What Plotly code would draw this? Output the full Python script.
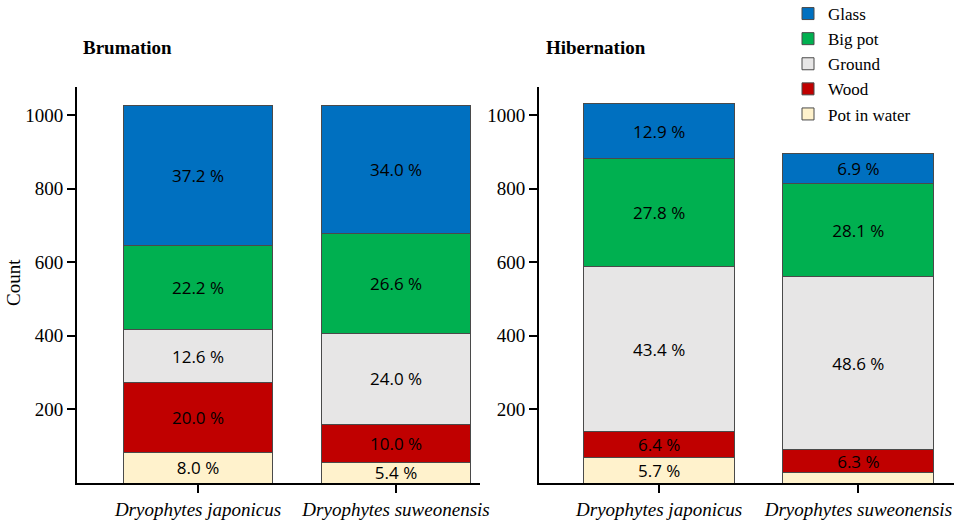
import plotly.graph_objects as go

# counts, bottom segment first
species = ['Dryophytes japonicus', 'Dryophytes suweonensis']
substrates = ['Pot in water', 'Wood', 'Ground', 'Big pot', 'Glass']
colors = ['#FFF2CC', '#C00000', '#E7E6E6', '#00B050', '#0070C0']

brum_counts = {
    'Pot in water': [83, 56],
    'Wood': [189, 104],
    'Ground': [146, 247],
    'Big pot': [227, 271],
    'Glass': [382, 349],
}
brum_labels = {
    'Pot in water': ['8.0 %', '5.4 %'],
    'Wood': ['20.0 %', '10.0 %'],
    'Ground': ['12.6 %', '24.0 %'],
    'Big pot': ['22.2 %', '26.6 %'],
    'Glass': ['37.2 %', '34.0 %'],
}
hib_counts = {
    'Pot in water': [70, 28],
    'Wood': [69, 62],
    'Ground': [450, 471],
    'Big pot': [293, 252],
    'Glass': [148, 82],
}
hib_labels = {
    'Pot in water': ['5.7 %', ''],
    'Wood': ['6.4 %', '6.3 %'],
    'Ground': ['43.4 %', '48.6 %'],
    'Big pot': ['27.8 %', '28.1 %'],
    'Glass': ['12.9 %', '6.9 %'],
}

SERIF = 'Liberation Serif'
SANS = 'Open Sans'

W, H = 957, 525


def px_x(x):
    return x / W


def px_y(y):
    return 1 - y / H


fig = go.Figure()

for name, col in zip(substrates, colors):
    for counts, labels, xa, ya, leg in [(brum_counts, brum_labels, 'x', 'y', True),
                                        (hib_counts, hib_labels, 'x2', 'y2', False)]:
        fig.add_trace(go.Bar(
            x=species, y=counts[name], name=name,
            marker=dict(color=col, line=dict(color='#4a4a4a', width=1)),
            text=labels[name], textposition='inside', insidetextanchor='middle',
            textangle=0, textfont=dict(family=SANS, size=17, color='black'),
            width=0.757, xaxis=xa, yaxis=ya, legendgroup=name, showlegend=leg,
        ))

xaxis_style = dict(
    type='category', showline=True, linecolor='black', linewidth=2,
    ticks='outside', ticklen=8, tickwidth=2, tickcolor='black',
    tickfont=dict(family=SERIF, size=19, color='black', style='italic'),
    showgrid=False, zeroline=False,
)
yaxis_style = dict(
    range=[0, 1076], tickvals=[200, 400, 600, 800, 1000],
    showline=True, linecolor='black', linewidth=2,
    ticks='outside', ticklen=8, tickwidth=2, tickcolor='black',
    tickfont=dict(family=SERIF, size=19, color='black'),
    showgrid=False, zeroline=False, domain=[px_y(483), px_y(87)],
)

fig.update_layout(
    width=W, height=H,
    barmode='stack',
    plot_bgcolor='white', paper_bgcolor='white',
    margin=dict(l=0, r=0, t=0, b=0, autoexpand=False),
    uniformtext=dict(mode='show', minsize=17),
    xaxis=dict(xaxis_style, domain=[px_x(77), px_x(480)], range=[-0.611, 1.424], anchor='y'),
    yaxis=dict(yaxis_style, anchor='x'),
    xaxis2=dict(xaxis_style, domain=[px_x(539), px_x(954)], range=[-0.603, 1.48], anchor='y2'),
    yaxis2=dict(yaxis_style, anchor='x2'),
    legend=dict(
        x=px_x(788), y=px_y(-4), xanchor='left', yanchor='top',
        traceorder='reversed', font=dict(family=SERIF, size=17, color='black'),
        itemwidth=30, tracegroupgap=0, bgcolor='rgba(0,0,0,0)',
    ),
    annotations=[
        dict(text='<b>Brumation</b>', x=px_x(81), y=px_y(47), xref='paper', yref='paper',
             xanchor='left', yanchor='middle', showarrow=False,
             font=dict(family=SERIF, size=19, color='black')),
        dict(text='<b>Hibernation</b>', x=px_x(544), y=px_y(47), xref='paper', yref='paper',
             xanchor='left', yanchor='middle', showarrow=False,
             font=dict(family=SERIF, size=19, color='black')),
        dict(text='Count', x=px_x(13), y=px_y(283), xref='paper', yref='paper',
             xanchor='center', yanchor='middle', showarrow=False, textangle=-90,
             font=dict(family=SERIF, size=19, color='black')),
    ],
)

# drop the default page margin so the figure sits at the window corner
fig.write_html('out.html', config={'displayModeBar': False},
               post_script="document.body.style.margin='0';document.body.style.overflow='hidden';")
